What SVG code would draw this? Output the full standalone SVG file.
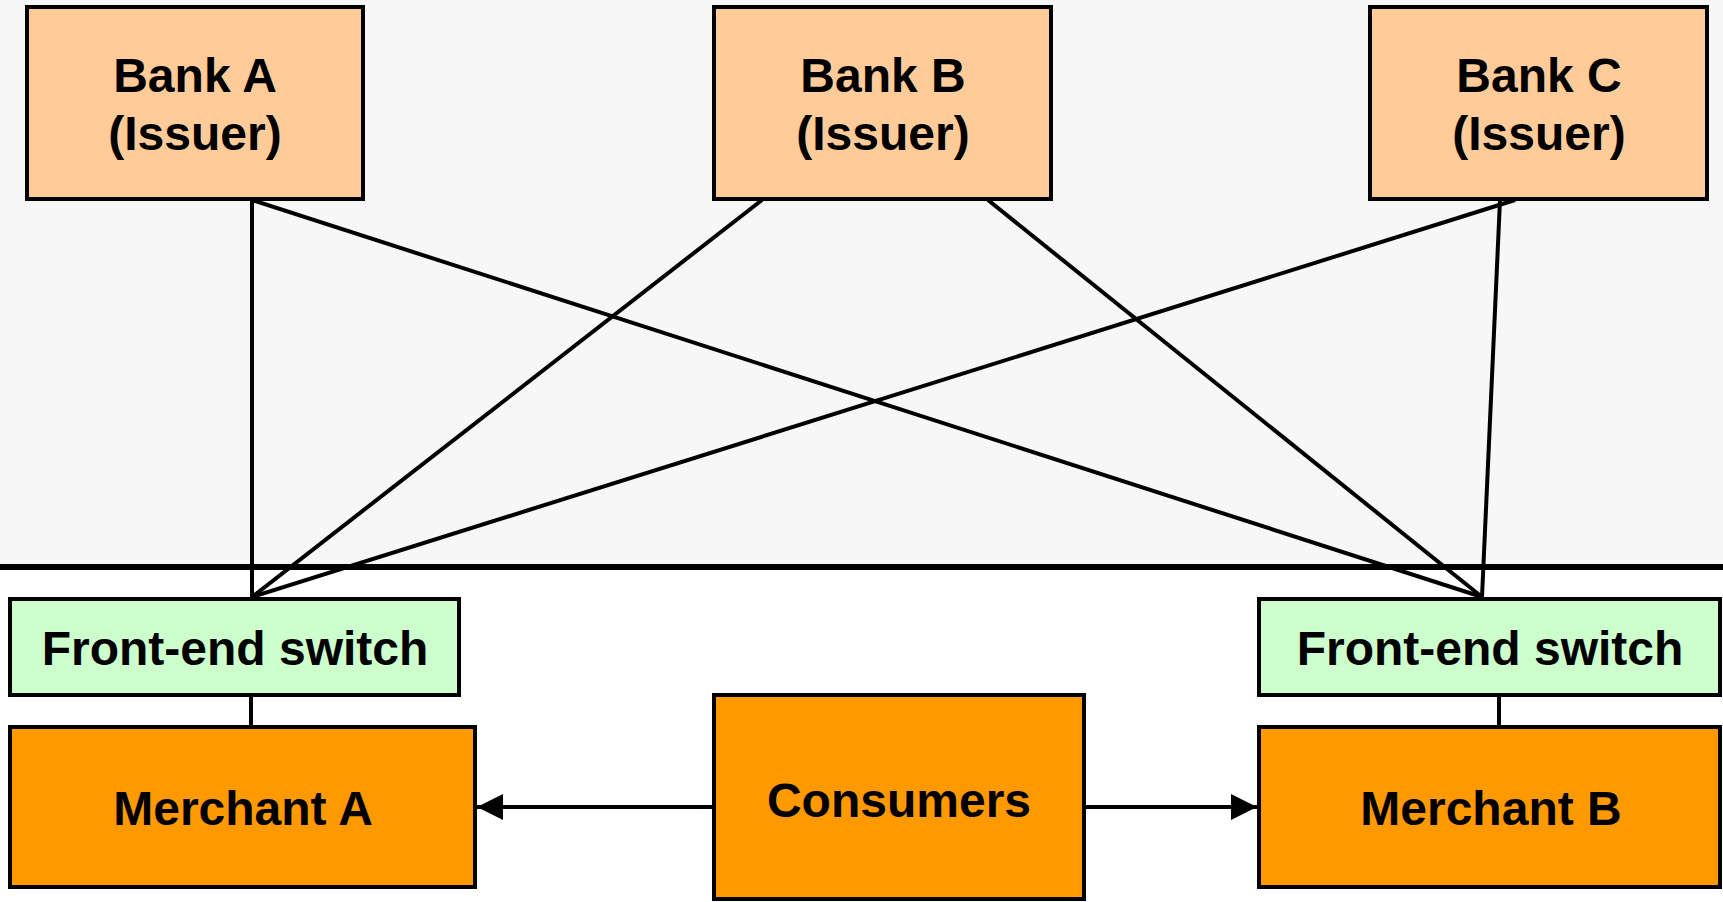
<svg xmlns="http://www.w3.org/2000/svg" width="1723" height="902" viewBox="0 0 1723 902">
  <style>
    .box { stroke: #000; stroke-width: 4; }
    .bank { fill: #FFCC99; }
    .switch { fill: #CCFFCC; }
    .party { fill: #FF9900; }
    .label { font-family: "Liberation Sans", Arial, sans-serif; font-weight: bold; font-size: 48px; fill: #000; text-anchor: middle; }
    .link { stroke: #000; stroke-width: 4; fill: none; }
  </style>
  <defs>
    <marker id="arrow" viewBox="0 0 26 26" refX="26" refY="13" markerWidth="26" markerHeight="26" markerUnits="userSpaceOnUse" orient="auto">
      <path d="M0,0 L26,13 L0,26 z" fill="#000"/>
    </marker>
  </defs>

  <!-- network zone background and boundary -->
  <rect x="0" y="0" width="1723" height="567" fill="#F7F7F7"/>
  <line x1="0" y1="567" x2="1723" y2="567" stroke="#000" stroke-width="6"/>

  <!-- connectors -->
  <g id="connectors">
    <line class="link" x1="252" y1="200" x2="252" y2="597"/>
    <line class="link" x1="252" y1="200" x2="1482" y2="597"/>
    <line class="link" x1="762" y1="200" x2="252" y2="597"/>
    <line class="link" x1="988" y1="200" x2="1482" y2="597"/>
    <line class="link" x1="1515" y1="200" x2="252" y2="597"/>
    <line class="link" x1="1500" y1="200" x2="1482" y2="597"/>
    <line class="link" x1="251" y1="697" x2="251" y2="727"/>
    <line class="link" x1="1499" y1="697" x2="1499" y2="727"/>
    <line class="link" x1="712" y1="807" x2="477" y2="807" marker-end="url(#arrow)"/>
    <line class="link" x1="1086" y1="807" x2="1257" y2="807" marker-end="url(#arrow)"/>
  </g>

  <g id="bank-a">
    <rect class="box bank" x="27" y="7" width="336" height="192"/>
    <text class="label" x="195" y="92">Bank A</text>
    <text class="label" x="195" y="150">(Issuer)</text>
  </g>
  <g id="bank-b">
    <rect class="box bank" x="714" y="7" width="337" height="192"/>
    <text class="label" x="883" y="92">Bank B</text>
    <text class="label" x="883" y="150">(Issuer)</text>
  </g>
  <g id="bank-c">
    <rect class="box bank" x="1370" y="7" width="337" height="192"/>
    <text class="label" x="1539" y="92">Bank C</text>
    <text class="label" x="1539" y="150">(Issuer)</text>
  </g>

  <g id="switch-a">
    <rect class="box switch" x="10" y="599" width="449" height="96"/>
    <text class="label" x="235" y="665">Front-end switch</text>
  </g>
  <g id="switch-b">
    <rect class="box switch" x="1259" y="599" width="461" height="96"/>
    <text class="label" x="1490" y="665">Front-end switch</text>
  </g>

  <g id="merchant-a">
    <rect class="box party" x="10" y="727" width="465" height="160"/>
    <text class="label" x="243" y="825">Merchant A</text>
  </g>
  <g id="merchant-b">
    <rect class="box party" x="1259" y="727" width="461" height="160"/>
    <text class="label" x="1491" y="825">Merchant B</text>
  </g>

  <g id="consumers">
    <rect class="box party" x="714" y="695" width="370" height="204"/>
    <text class="label" x="899" y="817">Consumers</text>
  </g>
</svg>
